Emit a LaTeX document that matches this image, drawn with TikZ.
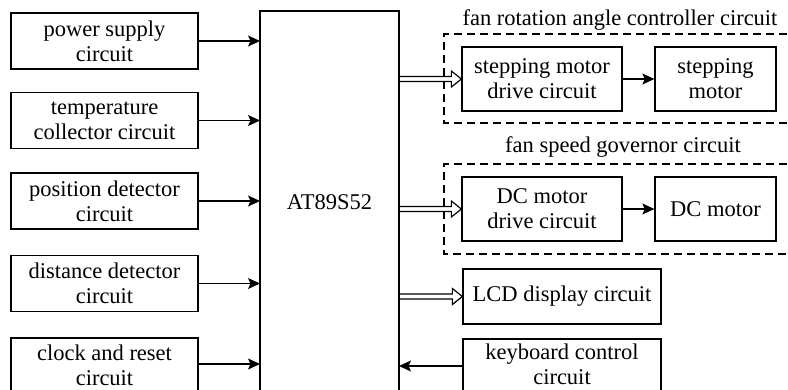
\documentclass[tikz,border=0pt]{standalone}
\usepackage{fontspec}
\setmainfont{Liberation Serif}
\usetikzlibrary{arrows.meta}
\tikzset{
  blk/.style={draw, line width=1.3pt, rectangle, align=center, inner sep=0pt},
  lbox/.style={blk, minimum width=187pt, minimum height=56pt},
  dashbox/.style={draw, line width=1.3pt, dash pattern=on 8pt off 5pt},
  arr/.style={line width=1.3pt, -{Stealth[length=12pt,width=11pt,inset=2.5pt]}},
  dbl/.style={line width=1.2pt, line join=miter},
  txt/.style={font=\fontsize{22.5}{25}\selectfont, align=center}
}
\newcommand{\dblarr}[2]{%
  \coordinate (dbA) at (#1);
  \coordinate (dbB) at (#2);
  \draw[dbl] ([yshift=2.5pt]dbA) -- ([xshift=-10pt,yshift=2.5pt]dbB) -- ([xshift=-10pt,yshift=8pt]dbB) -- (dbB)
     -- ([xshift=-10pt,yshift=-8pt]dbB) -- ([xshift=-10pt,yshift=-2.5pt]dbB) -- ([yshift=-2.5pt]dbA);
}
\begin{document}
\begin{tikzpicture}[x=1pt,y=-1pt,every node/.style={txt}]
\useasboundingbox (0,0) rectangle (788,389);
\clip (0,0) rectangle (788,389);
% left boxes
\node[lbox] (pw) at (104.5,41) {power supply\\circuit};
\node[lbox] (tc) at (104.5,120.5) {temperature\\collector circuit};
\node[lbox] (pd) at (104.5,201) {position detector\\circuit};
\node[lbox] (dd) at (104.5,283.5) {distance detector\\circuit};
\draw[line width=1.3pt] (11,400) -- (11,338) -- (198,338) -- (198,400);
\node (cr) at (104.5,365) {clock and reset\\circuit};
\coordinate (crE) at (198,364);
% main box
\draw[line width=1.3pt] (260,400) -- (260,11) -- (399,11) -- (399,400);
\coordinate (mcuW) at (260,200);
\coordinate (mcuE) at (399,200);
\node (mcu) at (329.5,202) {AT89S52};
% inputs
\foreach \n in {pw,tc,pd,dd}{
  \draw[arr] (\n.east) -- (\n.east -| mcuW);
}
\draw[arr] (crE) -- (crE -| mcuW);
% fan rotation angle group
\draw[dashbox] (800,34) -- (444,34) -- (444,123) -- (800,123);
\node (lab1) at (620,20) {fan rotation angle controller circuit};
\node[blk, minimum width=160pt, minimum height=64pt] (drv1) at (542,79) {stepping motor\\drive circuit};
\node[blk, minimum width=121pt, minimum height=64pt] (mot1) at (715.5,79) {stepping\\motor};
\draw[arr] (drv1) -- (mot1);
% fan speed group
\draw[dashbox] (800,164) -- (444,164) -- (444,254) -- (800,254);
\node (lab2) at (623,147) {fan speed governor circuit};
\node[blk, minimum width=160pt, minimum height=64pt] (drv2) at (542,209) {DC motor\\drive circuit};
\node[blk, minimum width=121pt, minimum height=64pt] (mot2) at (715.5,209) {DC motor};
\draw[arr] (drv2) -- (mot2);
% LCD and keyboard
\node[blk, minimum width=198pt, minimum height=55pt] (lcd) at (562,296.5) {LCD display circuit};
\draw[line width=1.3pt] (463,400) -- (463,339) -- (661,339) -- (661,400);
\node (kb) at (562,364) {keyboard control\\circuit};
\coordinate (kbW) at (463,366);
\draw[arr] (kbW) -- (kbW -| mcuE);
% double arrows
\dblarr{drv1.west -| mcuE}{drv1.west}
\dblarr{drv2.west -| mcuE}{drv2.west}
\dblarr{lcd.west -| mcuE}{lcd.west}
\end{tikzpicture}
\end{document}
